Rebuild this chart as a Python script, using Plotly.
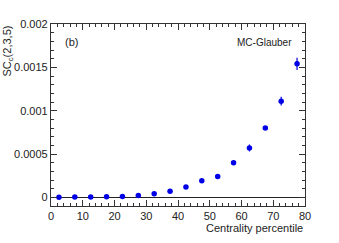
import plotly.graph_objects as go

centrality = [2.5, 7.5, 12.5, 17.5, 22.5, 27.5, 32.5, 37.5, 42.5, 47.5, 52.5, 57.5, 62.5, 67.5, 72.5, 77.5]
sc_values = [0.000002, 0.000003, 0.000004, 0.000006, 0.00001, 0.00002, 0.00004, 0.00007,
             0.00012, 0.00019, 0.00024, 0.00040, 0.00057, 0.00080, 0.00111, 0.00154]
sc_errors = [0.000002, 0.000002, 0.000002, 0.000003, 0.000003, 0.000004, 0.000005, 0.000006,
             0.000007, 0.000008, 0.00001, 0.000014, 0.00004, 0.000022, 0.00005, 0.00007]
y_tickvals = [0, 0.0005, 0.001, 0.0015, 0.002]
y_ticktext = ["0", "0.0005", "0.001", "0.0015", "0.002"]

FONT = "Liberation Sans, Arial, sans-serif"
AX = "#333333"

fig = go.Figure()
fig.add_trace(go.Scatter(
    x=centrality, y=sc_values, mode="markers",
    marker=dict(color="#0000e6", size=5.5),
    error_y=dict(type="data", array=sc_errors, color="#0000e6", thickness=1.2, width=0),
))

fig.update_layout(
    width=339, height=243, autosize=False,
    margin=dict(l=51, r=34, t=24, b=37, pad=0, autoexpand=False),
    paper_bgcolor="white", plot_bgcolor="white",
    showlegend=False,
    font=dict(family=FONT, size=11, color="#222222"),
    xaxis=dict(range=[0, 80], tickvals=[0, 10, 20, 30, 40, 50, 60, 70, 80], automargin=False,
               showline=True, linecolor=AX, linewidth=1.2, mirror="allticks",
               ticks="inside", ticklen=6, tickcolor=AX, showgrid=False, zeroline=False,
               minor=dict(dtick=2, ticks="inside", ticklen=3, tickcolor=AX, showgrid=False),
               tickfont=dict(size=11)),
    yaxis=dict(range=[-0.0001, 0.002], tickvals=y_tickvals, ticktext=y_ticktext, automargin=False,
               showline=True, linecolor=AX, linewidth=1.2, mirror="allticks",
               ticks="inside", ticklen=6, tickcolor=AX, showgrid=False,
               zeroline=True, zerolinecolor="#222222", zerolinewidth=1,
               minor=dict(dtick=0.0001, ticks="inside", ticklen=3, tickcolor=AX, showgrid=False),
               tickfont=dict(size=11)),
    annotations=[
        dict(text="SC<sub>c</sub>(2,3,5)", xref="paper", yref="paper", x=0, y=1,
             xanchor="right", yanchor="top", xshift=-35, textangle=-90, showarrow=False,
             font=dict(size=11)),
        dict(text="Centrality percentile", xref="paper", yref="paper", x=1, y=0,
             xanchor="right", yanchor="top", yshift=-14, showarrow=False, font=dict(size=11)),
        dict(text="(b)", xref="paper", yref="paper", x=0.047, y=0.9,
             xanchor="left", yanchor="middle", showarrow=False, font=dict(size=11)),
        dict(text="MC-Glauber", xref="paper", yref="paper", x=0.957, y=0.9,
             xanchor="right", yanchor="middle", showarrow=False, font=dict(size=10)),
    ],
)

# remove the page's default 8px body margin so the figure fills the window exactly
fig.write_html("out.html", config={"displayModeBar": False},
               post_script="document.body.style.margin='0';")
